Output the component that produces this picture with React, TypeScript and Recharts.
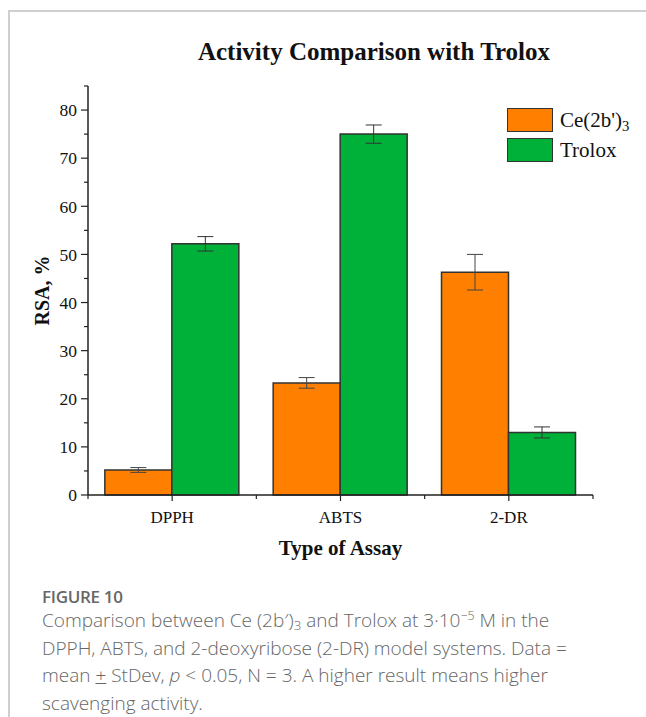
import React from 'react';
import { BarChart, Bar, XAxis, YAxis, ErrorBar, Legend } from 'recharts';

const categories = ['DPPH', 'ABTS', '2-DR'];
const ceValues = [5.2, 23.3, 46.3];
const ceErrors = [0.5, 1.1, 3.7];
const troloxValues = [52.2, 75.0, 13.0];
const troloxErrors = [1.5, 1.9, 1.15];
const yTicks = [0, 5, 10, 15, 20, 25, 30, 35, 40, 45, 50, 55, 60, 65, 70, 75, 80, 85];
const seriesLabels: Record<string, React.ReactNode> = {
  ce: (
    <span>
      Ce(2b')<sub style={{ fontSize: '0.7em', verticalAlign: '-0.3em', lineHeight: 0 }}>3</sub>
    </span>
  ),
  trolox: <span>Trolox</span>,
};

const data = categories.map((c, i) => ({
  name: c,
  ce: ceValues[i],
  ceErr: ceErrors[i],
  trolox: troloxValues[i],
  troloxErr: troloxErrors[i],
}));

const SERIF = "'Liberation Serif', 'Times New Roman', serif";
const CHART_W = 646;
const CHART_H = 580;
const MARGIN = { top: 86, right: 53, bottom: 25, left: 0 };
const Y_W = 88;
const Y_TICK_SIZE = 7;
const Y_TICK_MARGIN = 4;
const X_TICK_SIZE = 6;
const PLOT_W = CHART_W - MARGIN.left - MARGIN.right - Y_W;
const BAND = PLOT_W / categories.length;

const YTick = (props: any) => {
  const { x, y, payload } = props;
  const v = payload.value;
  const major = v % 10 === 0;
  const axisX = x + Y_TICK_SIZE + Y_TICK_MARGIN;
  return (
    <g>
      <line x1={axisX} x2={axisX - (major ? Y_TICK_SIZE : 4)} y1={y} y2={y} stroke="#222" strokeWidth={1.2} />
      {major && (
        <text x={x} y={y} dy="0.36em" textAnchor="end" fontFamily={SERIF} fontSize={17.5} fill="#111">
          {v}
        </text>
      )}
    </g>
  );
};

const XTick = (props: any) => {
  const { x, y, payload, index } = props;
  const axisY = y - X_TICK_SIZE - 10;
  const left = x - BAND / 2;
  const right = x + BAND / 2;
  return (
    <g>
      <line x1={left} x2={left} y1={axisY} y2={axisY + X_TICK_SIZE - 2} stroke="#222" strokeWidth={1.2} />
      {index === categories.length - 1 && (
        <line x1={right} x2={right} y1={axisY} y2={axisY + X_TICK_SIZE - 2} stroke="#222" strokeWidth={1.2} />
      )}
      <text x={x} y={y} dy="0.71em" textAnchor="middle" fontFamily={SERIF} fontSize={17} fill="#111">
        {payload.value}
      </text>
    </g>
  );
};

const LegendContent = (props: any) => {
  const { payload } = props;
  return (
    <div style={{ fontFamily: SERIF, fontSize: 21, color: '#111' }}>
      {(payload || []).map((p: any) => (
        <div key={p.dataKey} style={{ display: 'flex', alignItems: 'center', height: 30 }}>
          <div
            style={{
              width: 44,
              height: 22,
              background: p.color,
              border: '1.5px solid #333',
              marginRight: 7,
            }}
          />
          <div style={{ lineHeight: '24px' }}>{seriesLabels[p.dataKey]}</div>
        </div>
      ))}
    </div>
  );
};

export default function App() {
  return (
    <div style={{ position: 'absolute', left: 0, top: 0, width: 646, height: 717, background: '#fff', overflow: 'hidden' }}>
      <div
        style={{
          position: 'absolute',
          left: 8,
          top: 10,
          width: 660,
          height: 720,
          borderTop: '2px solid #cfcfcf',
          borderLeft: '2px solid #cfcfcf',
        }}
      />
      <div
        style={{
          position: 'absolute',
          left: 74,
          top: 39,
          width: 600,
          textAlign: 'center',
          fontFamily: SERIF,
          fontWeight: 'bold',
          fontSize: 25,
          lineHeight: '25px',
          color: '#111',
        }}
      >
        Activity Comparison with Trolox
      </div>
      <div style={{ position: 'absolute', left: 0, top: 0 }}>
        <BarChart width={CHART_W} height={CHART_H} data={data} margin={MARGIN} barCategoryGap="10%" barGap={0}>
          <XAxis
            dataKey="name"
            height={60}
            tickSize={X_TICK_SIZE}
            tickMargin={10}
            tick={<XTick />}
            axisLine={{ stroke: '#222', strokeWidth: 1.5 }}
            tickLine={{ stroke: '#222', strokeWidth: 1.2 }}
            interval={0}
            label={{
              value: 'Type of Assay',
              position: 'insideBottom',
              offset: 0,
              style: { fontFamily: SERIF, fontWeight: 'bold', fontSize: 21, fill: '#111' },
            }}
          />
          <YAxis
            width={Y_W}
            domain={[0, 85]}
            ticks={yTicks}
            interval={0}
            tickSize={Y_TICK_SIZE}
            tickMargin={Y_TICK_MARGIN}
            tickLine={false}
            tick={<YTick />}
            axisLine={{ stroke: '#222', strokeWidth: 1.5 }}
            label={{
              value: 'RSA, %',
              angle: -90,
              position: 'insideLeft',
              offset: 42,
              style: { textAnchor: 'middle', fontFamily: SERIF, fontWeight: 'bold', fontSize: 20, fill: '#111' },
            }}
          />
          <Legend
            layout="vertical"
            align="center"
            verticalAlign="middle"
            content={<LegendContent />}
            wrapperStyle={{ position: 'absolute', left: 507, top: 105, width: 130, height: 70 }}
          />
          <Bar dataKey="ce" name="Ce(2b')3" fill="#FF8000" stroke="#333" strokeWidth={1.5} isAnimationActive={false}>
            <ErrorBar dataKey="ceErr" width={8} stroke="#444" strokeWidth={1} direction="y" />
          </Bar>
          <Bar dataKey="trolox" name="Trolox" fill="#00B139" stroke="#333" strokeWidth={1.5} isAnimationActive={false}>
            <ErrorBar dataKey="troloxErr" width={8} stroke="#333" strokeWidth={1} direction="y" />
          </Bar>
        </BarChart>
      </div>
      <div
        style={{
          position: 'absolute',
          left: 42,
          top: 588,
          width: 535,
          fontFamily: "'Open Sans', 'Noto Sans', sans-serif",
          color: '#666',
        }}
      >
        <div style={{ fontSize: 17, fontWeight: 600, letterSpacing: '-0.3px', lineHeight: '18px' }}>FIGURE 10</div>
        <div style={{ fontSize: 19, fontWeight: 300, lineHeight: '27.7px', marginTop: 1 }}>
          Comparison between Ce (2b′)<sub style={{ fontSize: '0.7em', verticalAlign: '-0.25em', lineHeight: 0 }}>3</sub> and Trolox at 3·10
          <sup style={{ fontSize: '0.65em', verticalAlign: '0.55em', lineHeight: 0 }}>−5</sup> M in the DPPH, ABTS, and 2-deoxyribose (2-DR)
          model systems. Data = mean <u>+</u> StDev, <i>p</i> &lt; 0.05, N = 3. A higher result means higher scavenging activity.
        </div>
      </div>
    </div>
  );
}
